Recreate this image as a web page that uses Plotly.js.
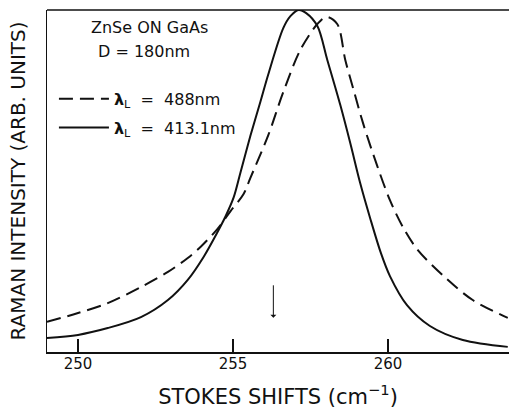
<!DOCTYPE html>
<html><head><meta charset="utf-8">
<script src="https://cdn.plot.ly/plotly-3.0.1.min.js"></script>
<style>html,body{margin:0;padding:0;background:#fff}#chart{width:509px;height:409px}</style>
</head><body><div id="chart"></div>
<script>
// Stokes shift (cm^-1) and intensity (arb. units)
const shiftSolid = [249.0, 250.0, 250.96, 252.03, 252.9, 253.54, 254.05, 254.5, 254.76, 255.02, 255.24, 255.56, 255.88, 256.14, 256.62, 256.85, 257.11, 257.36, 257.72, 258.04, 258.46, 258.78, 259.1, 259.42, 259.77, 260.06, 260.61, 261.35, 262.41, 263.86];
const intSolid   = [0.041, 0.05, 0.07, 0.102, 0.152, 0.211, 0.278, 0.351, 0.397, 0.452, 0.525, 0.632, 0.731, 0.813, 0.947, 0.982, 1.0, 0.991, 0.953, 0.854, 0.722, 0.611, 0.494, 0.392, 0.289, 0.222, 0.137, 0.076, 0.035, 0.015];
const shiftDash  = [249.0, 250.0, 250.96, 252.03, 252.9, 253.54, 253.95, 254.5, 254.92, 255.34, 255.56, 256.14, 256.62, 257.17, 257.72, 258.01, 258.36, 258.62, 258.87, 259.2, 259.65, 260.06, 260.48, 260.96, 261.9, 262.73, 263.86];
const intDash    = [0.088, 0.114, 0.143, 0.19, 0.234, 0.275, 0.307, 0.36, 0.412, 0.462, 0.509, 0.635, 0.760, 0.883, 0.959, 0.980, 0.959, 0.854, 0.772, 0.667, 0.544, 0.444, 0.365, 0.298, 0.213, 0.152, 0.10];
const tickVals = [250, 255, 260];
const tickText = ["250", "255", "260"];
const labelDash = "<b>λ</b><sub>L</sub>  =  488nm";
const labelSolid = "<b>λ</b><sub>L</sub>  =  413.1nm";
const arrowShift = 256.3;

const font = "DejaVu Sans, Liberation Sans, Arial, sans-serif";
const traces = [
  {x: shiftDash, y: intDash, mode: "lines", name: labelDash, legendgroup: "a",
   line: {color: "#111", width: 2, dash: "14px,7px", shape: "spline", smoothing: 0.9}},
  {x: shiftSolid, y: intSolid, mode: "lines", name: labelSolid, legendgroup: "b",
   line: {color: "#111", width: 2, shape: "spline", smoothing: 0.9}}
];
const layout = {
  width: 509, height: 409,
  margin: {l: 47, r: 0, t: 10, b: 57},
  paper_bgcolor: "#fff", plot_bgcolor: "#fff",
  font: {family: font, color: "#111", size: 15},
  showlegend: true,
  legend: {x: 0.015, y: 0.79, xanchor: "left", yanchor: "top", bgcolor: "rgba(0,0,0,0)",
           font: {size: 16}, tracegroupgap: 5, itemwidth: 50, traceorder: "grouped"},
  xaxis: {range: [249.0, 263.9], tickvals: tickVals, ticktext: tickText, ticks: "inside",
          ticklen: 13, tickwidth: 1.5, tickcolor: "#111", showgrid: false, zeroline: false,
          showline: true, linecolor: "#111", linewidth: 1.5, mirror: false,
          tickfont: {size: 15}, ticklabelstandoff: -3,
          title: {text: "STOKES SHIFTS (cm<sup>−1</sup>)", font: {size: 21}, standoff: 19}},
  yaxis: {range: [0, 1.0], showticklabels: false, ticks: "", showgrid: false, zeroline: false,
          showline: true, linecolor: "#111", linewidth: 1.5,
          title: {text: "RAMAN INTENSITY (ARB. UNITS)", font: {size: 20}, standoff: 14}},
  shapes: [{type: "line", xref: "paper", yref: "paper", x0: 0, x1: 1, y0: 1, y1: 1,
            line: {color: "#111", width: 1.5}}],
  annotations: [
    {xref: "paper", yref: "paper", x: 0.221, y: 0.950, xanchor: "center", yanchor: "middle",
     text: "ZnSe ON GaAs", showarrow: false, font: {size: 16}},
    {xref: "paper", yref: "paper", x: 0.21, y: 0.880, xanchor: "center", yanchor: "middle",
     text: "D = 180nm", showarrow: false, font: {size: 16}},
    {x: arrowShift, y: 0.10, xref: "x", yref: "y", text: "", showarrow: true, ax: 0, ay: -34,
     arrowhead: 1, arrowsize: 1, arrowwidth: 1, arrowcolor: "#111"}
  ]
};
Plotly.newPlot("chart", traces, layout, {displayModeBar: false, staticPlot: true});
</script></body></html>
